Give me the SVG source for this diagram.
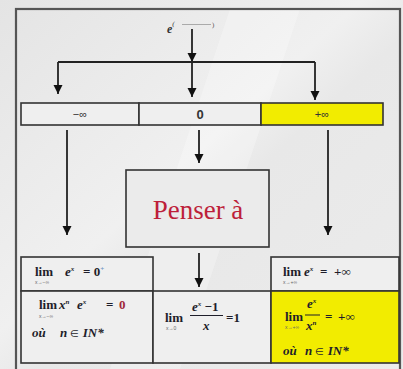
<svg xmlns="http://www.w3.org/2000/svg" width="403" height="369" viewBox="0 0 403 369">
<defs>
<linearGradient id="bg" x1="0" y1="0" x2="1" y2="1">
<stop offset="0" stop-color="#e4e4e4"/>
<stop offset="0.45" stop-color="#f0f0f0"/>
<stop offset="0.55" stop-color="#e8e8e8"/>
<stop offset="1" stop-color="#ececec"/>
</linearGradient>
<marker id="ah" viewBox="0 0 10 10" refX="10" refY="5" markerUnits="userSpaceOnUse" markerWidth="9" markerHeight="10" orient="auto">
<path d="M0,0 L10,5 L0,10 z" fill="#111"/>
</marker>
</defs>
<style>
.cell{fill:#efefef;stroke:#333;stroke-width:1.6}
.yel{fill:#f2ec00;stroke:#333;stroke-width:1.6}
.ln{stroke:#222;stroke-width:1.8;fill:none}
.arr{stroke:#222;stroke-width:1.8;fill:none;marker-end:url(#ah)}
.sans{font-family:"Liberation Sans",Arial,sans-serif;fill:#333}
.m{font-family:"Liberation Serif","Times New Roman",serif;font-weight:bold;font-size:13px;fill:#1e1e2a}
.mi{font-style:italic}
.sup{font-size:7px}
.el{font-size:10px;font-weight:normal;font-style:normal}
.sub{font-family:"Liberation Sans",Arial,sans-serif;font-size:5px;fill:#666}
.red{fill:#a0283a}
</style>
<rect x="0" y="0" width="403" height="369" fill="url(#bg)"/>
<polygon points="230,9 300,9 180,369 110,369" fill="#ffffff" opacity="0.25"/>
<rect x="16" y="9" width="384" height="364" fill="none" stroke="#555" stroke-width="2.2"/>

<g id="source">
<text x="167" y="33" font-family="Liberation Serif,serif" font-style="italic" font-weight="bold" font-size="12" fill="#333">e<tspan dy="-7" font-size="7" font-weight="normal">(</tspan></text>
<line x1="182" y1="24.5" x2="211" y2="24.5" stroke="#999" stroke-width="0.8"/>
<text x="212" y="27" font-family="Liberation Serif,serif" font-size="7" fill="#555">)</text>
</g>

<g id="cell-minus-inf">
<rect class="cell" x="21" y="103" width="118" height="22"/>
<text class="sans" x="80" y="118" font-size="11" text-anchor="middle">−∞</text>
</g>
<g id="cell-zero">
<rect class="cell" x="139" y="103" width="122" height="22"/>
<text class="sans" x="200" y="119" font-size="13" font-weight="bold" text-anchor="middle">0</text>
</g>
<g id="cell-plus-inf">
<rect class="yel" x="261" y="103" width="122" height="22"/>
<text class="sans" x="322" y="118" font-size="11" text-anchor="middle">+∞</text>
</g>

<g id="penser">
<rect x="126" y="170" width="143" height="77" fill="#ebebeb" stroke="#333" stroke-width="1.6"/>
<text x="198" y="219" text-anchor="middle" font-family="Liberation Serif,'Times New Roman',serif" font-size="27" fill="#bd1f3a">Penser à</text>
</g>

<g id="lim-left-top">
<rect class="cell" x="21" y="257" width="132" height="34"/>
<text class="m" x="35" y="276">lim<tspan class="mi" x="65">e</tspan><tspan class="sup mi" dy="-5">x</tspan><tspan x="83" dy="5">= 0</tspan><tspan class="sup" dy="-5" fill="#6a8fc0">+</tspan></text>
<text class="sub" x="35" y="284">x→−∞</text>
</g>

<g id="lim-left-bottom">
<rect class="cell" x="21" y="291" width="132" height="72"/>
<text class="m" x="39" y="309">lim<tspan class="mi" x="59">x</tspan><tspan class="sup mi" dy="-5">n</tspan><tspan class="mi" x="77" dy="5">e</tspan><tspan class="sup mi" dy="-5">x</tspan><tspan x="106" dy="5">=</tspan><tspan class="red" x="119">0</tspan></text>
<text class="sub" x="39" y="318">x→−∞</text>
<text class="m mi" x="32" y="337">où<tspan x="60">n </tspan><tspan class="el">∈</tspan><tspan> IN*</tspan></text>
</g>

<g id="lim-middle">
<rect class="cell" x="153" y="291" width="118" height="72"/>
<text class="m" x="165" y="322">lim</text>
<text class="sub" x="166" y="330">x→0</text>
<text class="m" x="192" y="311"><tspan class="mi">e</tspan><tspan class="sup mi" dy="-5">x</tspan><tspan dy="5"> −1</tspan></text>
<line x1="190" y1="315.5" x2="223" y2="315.5" stroke="#1e1e2a" stroke-width="1"/>
<text class="m mi" x="203" y="330">x</text>
<text class="m" x="226" y="322">=1</text>
</g>

<g id="lim-right-top">
<rect class="cell" x="271" y="257" width="128" height="34"/>
<text class="m" x="283" y="276">lim<tspan class="mi" x="304">e</tspan><tspan class="sup mi" dy="-5">x</tspan><tspan x="320" dy="5">=</tspan><tspan x="334">+∞</tspan></text>
<text class="sub" x="283" y="284">x→+∞</text>
</g>

<g id="lim-right-bottom">
<rect class="yel" x="271" y="291" width="128" height="72"/>
<text class="m" x="285" y="321">lim</text>
<text class="sub" x="285" y="329">x→+∞</text>
<text class="m" x="307" y="308"><tspan class="mi">e</tspan><tspan class="sup mi" dy="-5">x</tspan></text>
<line x1="305" y1="315" x2="320" y2="315" stroke="#1e1e2a" stroke-width="1"/>
<text class="m" x="306" y="330"><tspan class="mi">x</tspan><tspan class="sup mi" dy="-5">n</tspan></text>
<text class="m" x="325" y="321">=<tspan x="338">+∞</tspan></text>
<text class="m mi" x="283" y="355">où<tspan x="305">n </tspan><tspan class="el">∈</tspan><tspan> IN*</tspan></text>
</g>

<g id="connectors">
<line class="arr" x1="192" y1="29" x2="192" y2="62"/>
<line class="ln" x1="58" y1="62" x2="315" y2="62"/>
<line class="arr" x1="58" y1="62" x2="58" y2="94"/>
<line class="arr" x1="192" y1="62" x2="192" y2="97"/>
<line class="arr" x1="315" y1="62" x2="315" y2="100"/>
<line class="arr" x1="67" y1="130" x2="67" y2="235"/>
<line class="arr" x1="199" y1="130" x2="199" y2="163"/>
<line class="arr" x1="328" y1="130" x2="328" y2="235"/>
<line class="arr" x1="199" y1="253" x2="199" y2="287"/>
</g>
</svg>
